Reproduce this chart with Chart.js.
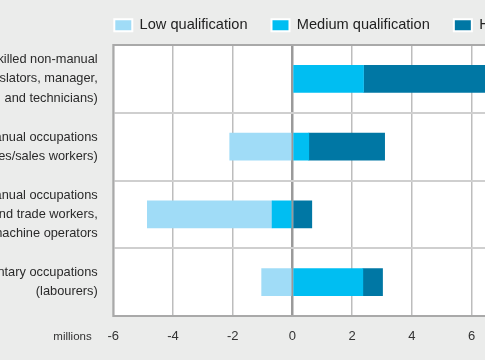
<!DOCTYPE html>
<html>
<head>
<meta charset="utf-8">
<script src="https://cdn.jsdelivr.net/npm/chart.js@4/dist/chart.umd.min.js"></script>
<style>
html,body{margin:0;padding:0;background:#ebeceb;overflow:hidden;width:485px;height:360px;}
#c{position:absolute;left:-200px;top:0;}
</style>
</head>
<body>
<canvas id="c" width="920" height="360"></canvas>
<script>
const categories = [
  ["High-skilled non-manual", "(legislators, manager,", "and technicians)"],
  ["Skilled non-manual occupations", "(clerks, services/sales workers)"],
  ["Skilled manual occupations", "(craft and trade workers,", "plant and machine operators"],
  ["Elementary occupations", "(labourers)"]
];
const lowQualification = [0, -2.1, -4.18, -1.03];
const mediumQualification = [2.38, 0.55, -0.68, 2.36];
const highQualification = [4.9, 2.54, 0.65, 0.66];
const seriesNames = ["Low qualification", "Medium qualification", "High qualification"];
const xTicks = { min: -6, max: 14, step: 2 };
const axisUnit = "millions";

const FONT = "'Liberation Sans', Arial, sans-serif";
const colors = { low: '#a0dcf7', medium: '#00bef2', high: '#0077a4' };
const LEGEND_PAD = 24;
const LEGEND_TOP = -6;

const plotPlugin = {
  id: 'plotDecor',
  afterLayout(chart) {
    const lg = chart.legend;
    if (lg) {
      lg.left = chart.chartArea.left + 1 - LEGEND_PAD;
      lg.top = LEGEND_TOP;
    }
  },
  beforeDraw(chart) {
    const a = chart.chartArea, ctx = chart.ctx;
    ctx.save();
    ctx.fillStyle = '#ffffff';
    ctx.fillRect(a.left, a.top, a.right - a.left, a.bottom - a.top);
    ctx.restore();
  },
  beforeDatasetsDraw(chart) {
    const a = chart.chartArea, ctx = chart.ctx;
    ctx.save();
    ctx.strokeStyle = '#a9a9a9';
    ctx.lineWidth = 2;
    ctx.strokeRect(a.left, a.top, a.right - a.left, a.bottom - a.top);
    ctx.restore();
  },
  afterDraw(chart) {
    const x = chart.scales.x, ctx = chart.ctx;
    ctx.save();
    ctx.font = "11.5px " + FONT;
    ctx.fillStyle = '#333333';
    ctx.textAlign = 'right';
    ctx.textBaseline = 'middle';
    ctx.fillText(axisUnit, chart.chartArea.left - 21.6, x.top + 13 + 7.8);
    ctx.restore();
  }
};

new Chart(document.getElementById('c'), {
  type: 'bar',
  data: {
    labels: categories,
    datasets: [
      { label: seriesNames[1], data: mediumQualification, backgroundColor: colors.medium },
      { label: seriesNames[0], data: lowQualification, backgroundColor: colors.low },
      { label: seriesNames[2], data: highQualification, backgroundColor: colors.high }
    ]
  },
  options: {
    indexAxis: 'y',
    responsive: false,
    animation: false,
    devicePixelRatio: 1,
    layout: { padding: { left: 53.3, right: 9.7, top: -3.6, bottom: 2.4 } },
    datasets: { bar: { barThickness: 27, borderWidth: 0 } },
    plugins: {
      tooltip: { enabled: false },
      legend: {
        position: 'top',
        align: 'start',
        labels: {
          boxWidth: 18,
          boxHeight: 12,
          padding: LEGEND_PAD,
          color: '#222222',
          font: { family: FONT, size: 14.6 },
          sort: (a, b) => seriesNames.indexOf(a.text) - seriesNames.indexOf(b.text),
          generateLabels(chart) {
            const items = Chart.defaults.plugins.legend.labels.generateLabels(chart);
            items.forEach(it => { it.strokeStyle = '#ffffff'; it.lineWidth = 2; });
            return items;
          }
        }
      }
    },
    scales: {
      x: {
        stacked: true,
        min: xTicks.min,
        max: xTicks.max,
        border: { display: false },
        grid: {
          drawTicks: false,
          color: c => (c.tick && c.tick.value === 0) ? '#9a9a9a' : '#bdbdbd',
          lineWidth: c => (c.tick && c.tick.value === 0) ? 2.5 : 1.5
        },
        ticks: {
          stepSize: xTicks.step,
          padding: 13,
          color: '#333333',
          font: { family: FONT, size: 13 }
        },
        afterFit(scale) { scale.paddingLeft = 0; scale.paddingRight = 0; }
      },
      y: {
        stacked: true,
        border: { display: false },
        grid: { drawTicks: false, color: '#cfcfcf', lineWidth: 2 },
        ticks: {
          padding: 15.6,
          color: '#2a2a2a',
          font: { family: FONT, size: 12.8, lineHeight: 1.5 }
        },
        afterFit(scale) { scale.width = 260; scale.paddingTop = 0; scale.paddingBottom = 0; }
      }
    }
  },
  plugins: [plotPlugin]
});
</script>
</body>
</html>
